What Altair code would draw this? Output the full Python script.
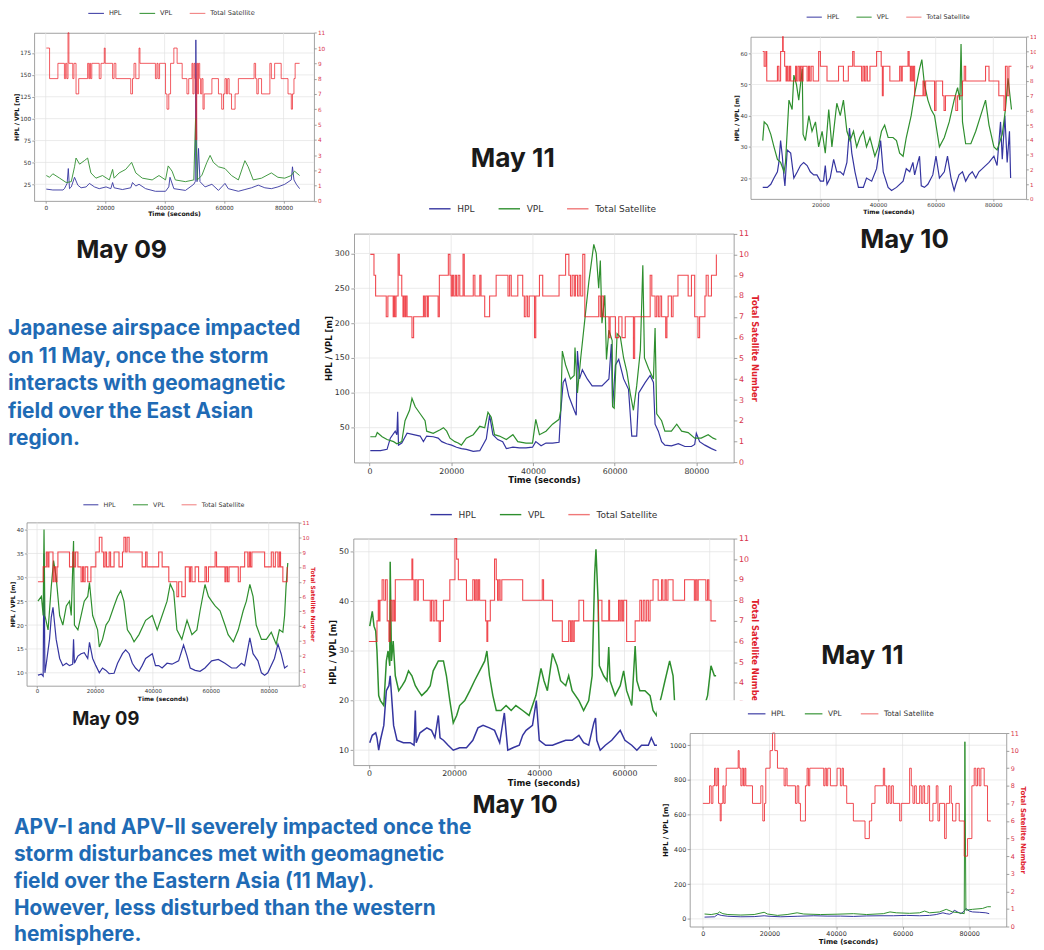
import altair as alt
import pandas as pd

# ---------------- values (t in seconds) ----------------
C1_HPL = [(200,19.5),(2400,18.5),(5800,18.5),(6300,20),(7200,26),(7600,43),(8000,20),(8600,22),(9700,33),(10800,24),
          (11900,21),(13600,22),(14700,26),(16400,22),(18000,20),(20300,22),(21900,20),(22500,27),(23000,21),(25800,19),
          (28600,21),(29200,27),(30300,23),(31400,25),(33600,20),(36900,17),(40300,17),(41400,22),(41800,33),(43100,20),
          (47000,18),(49800,25),(50300,28),(50500,190),(50900,28),(51400,66),(51900,28),(53600,22),(55900,25),(58100,18),
          (60300,26),(61400,20),(64800,17),(67000,19),(69200,21),(71500,24),(73700,21),(75900,20),(78100,22),(80400,25),
          (82600,30),(83000,45),(83500,30),(84300,25),(85400,20)]
C1_VPL = [(200,35),(1300,33),(2400,37),(4700,32),(6900,27),(8600,28),(9700,45),(10200,55),(11400,48),(13000,52),
          (14100,55),(15200,38),(16900,32),(19100,35),(21400,30),(22500,42),(23000,32),(24700,38),(26900,42),(28900,50),
          (30300,38),(32500,32),(35800,30),(38100,35),(40300,30),(41200,46),(42500,40),(43600,30),(47000,28),(49800,30),
          (50400,100),(51000,30),(52500,35),(54200,50),(55300,58),(56400,50),(58100,45),(60300,43),(62500,35),(64800,30),
          (67000,52),(68100,45),(69800,30),(72600,32),(75900,38),(78100,33),(80400,32),(82600,35),(83700,40),(85400,35)]
C1_SAT = [(200,10),(1300,8),(4100,9),(6300,8),(6700,9),(7100,8),(7500,11),(7800,9),(9100,8),(9500,9),(10200,7),(11100,8),
          (14100,9),(14500,8),(14800,9),(15100,8),(15500,9),(18000,8),(18600,9),(19700,10),(20000,9),(22500,8),(23000,9),
          (23600,8),(28600,7),(29200,8),(29700,9),(30300,8),(31400,10),(31700,9),(36900,8),(37400,9),(37800,8),(38300,9),
          (40300,7),(40800,6),(41400,7),(42000,9),(43100,10),(44200,9),(45900,8),(47500,7),(48100,8),(49200,9),(49500,7),
          (49900,9),(50200,8),(50500,4),(50800,9),(51100,7),(51400,9),(51800,8),(52100,7),(52500,8),(52900,6),(53300,7),
          (55900,8),(58100,7),(59200,6),(59800,7),(60300,8),(60800,7),(61200,8),(61700,7),(62500,6),(63700,7),(64800,8),
          (70100,9),(70600,8),(71000,7),(71500,8),(72600,7),(75400,9),(75900,8),(77000,9),(79200,8),(81500,7),(82600,6),
          (83000,7),(83500,8),(83900,9),(85400,9)]

C2_HPL = [(0,17),(1600,17),(2800,18),(3900,20),(5100,22),(5600,25),(6200,32),(6800,27),(7400,20),(7700,17.5),(8500,29),
          (9700,28),(10800,20),(12000,22),(13100,24),(14200,25),(15400,24),(16500,22),(17700,21),(18800,21),(20000,19),
          (21100,19),(21700,24),(22300,18),(23400,20),(24600,26),(25700,22),(26900,22),(28000,21),(29200,25),(30100,36),
          (30900,28),(32000,22),(33200,17),(34900,17),(36000,20),(37800,19),(39500,23),(40900,32),(41800,22),(43500,17),
          (44700,16),(46400,17),(48700,19),(49800,23),(51000,22),(52100,25),(52700,21),(53800,25),(54400,27),(55000,17.5),
          (56100,17),(57300,18),(59000,21),(60100,27),(61300,20),(63000,22),(64100,27),(65300,20),(66400,16),(67000,18),
          (68100,21),(69300,22),(70400,19),(71600,21),(72700,22),(73900,20),(75000,22),(76200,23),(77300,24),(78500,25),
          (80200,27),(81300,24),(82500,38),(83100,26),(84000,40),(84800,25),(85600,35),(86000,20)]
C2_VPL = [(0,32),(500,38),(1600,37),(2800,34),(3900,30),(5100,26),(6200,25),(7400,22),(7900,25),(9100,45),(10200,42),
          (10800,53),(11700,50),(12500,45),(13700,55),(14000,34),(14800,32),(16000,40),(17100,35),(18300,38),(19400,30),
          (20600,35),(21700,28),(22900,42),(24000,30),(25700,44),(26900,40),(28000,45),(29200,35),(30300,32),(31500,35),
          (32600,30),(33700,33),(34900,35),(36000,30),(37200,33),(38900,27),(40100,30),(41200,35),(42300,37),(43500,33),
          (45200,33),(46400,32),(47500,28),(48700,27),(49800,33),(51500,40),(52700,47),(54400,55),(55200,58),(56100,50),
          (57300,45),(58400,42),(59600,40),(61300,30),(63000,33),(64700,38),(66400,45),(67600,49),(68400,45),(68800,63),
          (69300,38),(70400,31),(72200,31),(73900,35),(75600,40),(77300,45),(78500,37),(80200,30),(81300,29),(83100,34),
          (84200,42),(85100,52),(86300,42)]
C2_SAT = [(0,10),(500,9),(1100,10),(1400,8),(5100,9),(5600,8),(6200,10),(6900,11),(7100,10),(7600,9),(8100,8),(8400,9),
          (8800,8),(9300,9),(9700,8),(11400,9),(11700,8),(12200,9),(12700,8),(13100,9),(13600,8),(14000,9),(15400,8),
          (15900,9),(16300,8),(16800,9),(17500,8),(19400,10),(20000,9),(22300,8),(26300,9),(28000,8),(29700,9),(31200,10),
          (31700,9),(34300,8),(34800,9),(35300,8),(35800,9),(36300,8),(37200,9),(39500,10),(41100,9),(41500,7),(41800,9),
          (44100,8),(47500,9),(48000,8),(48400,9),(50400,10),(50800,9),(51200,8),(51500,9),(51900,8),(52300,9),(52700,7),
          (55600,8),(56000,7),(56500,8),(59600,6),(60100,8),(62400,7),(62900,6),(63400,7),(67000,6),(67600,7),(69300,8),
          (69900,9),(70400,8),(77300,9),(78500,8),(81900,7),(83700,6),(84200,9),(84800,7),(85400,9),(86300,9)]

C3_HPL = [(200,17),(2700,17),(4300,19),(5100,35),(6300,45),(6700,40),(6900,73),(7100,25),(7900,28),(9200,42),(10800,40),
          (12400,38),(13200,30),(14000,38),(15600,37),(16800,35),(17700,30),(18900,27),(20100,25),(21300,22),(22500,20),
          (23700,19),(25400,16),(27000,17),(28600,34),(29400,68),(30200,40),(31400,33),(32600,30),(33500,20),(35100,22),
          (36700,21),(38300,21),(39900,22),(40700,30),(42000,24),(43200,28),(44800,28),(46400,29),(46800,72),(47400,115),
          (47900,120),(48800,95),(50100,75),(50600,68),(50900,160),(51400,120),(52100,133),(53300,120),(54500,110),
          (56900,110),(58600,120),(59200,170),(59500,80),(60200,140),(61000,148),(62200,120),(63400,105),(64200,38),
          (65400,38),(65900,100),(67500,115),(68700,125),(69500,115),(69900,55),(70700,45),(71500,30),(72300,25),
          (73900,24),(75600,27),(77200,23),(78800,23),(79600,26),(80000,42),(80800,30),(82100,25),(83700,20),(84900,17)]
C3_VPL = [(200,37),(1500,37),(1900,43),(3100,37),(4300,33),(5900,30),(6700,27),(7900,30),(8700,60),(9800,75),(10400,92),
          (11200,80),(12400,70),(13600,60),(14000,45),(15600,42),(17300,47),(18100,50),(18900,45),(19700,35),(20900,30),
          (21700,28),(22500,25),(23700,35),(25400,40),(27000,52),(28200,50),(29000,72),(29800,65),(30600,40),(31800,38),
          (33500,33),(35100,40),(36300,30),(38300,28),(39900,28),(40700,62),(41600,40),(43200,45),(44800,55),(46400,62),
          (46800,75),(47200,160),(48000,140),(49200,120),(50100,125),(50300,165),(50900,100),(51700,150),(53700,260),
          (54900,313),(55500,300),(56100,250),(56500,290),(56900,200),(57600,240),(58000,148),(58600,190),(59400,175),
          (59500,80),(59900,78),(60600,185),(61400,180),(62200,150),(63000,130),(63800,100),(64600,75),(65400,110),
          (66300,161),(66900,283),(67300,150),(68300,135),(69500,120),(69900,193),(70300,70),(71500,60),(72300,45),
          (73900,45),(75200,55),(76400,45),(78000,43),(79600,35),(81200,35),(82900,40),(84100,35),(84900,33)]
C3_SAT = [(200,10),(1100,9),(1500,8),(4100,7),(4500,8),(5800,7),(6000,8),(6200,7),(6500,8),(7000,10),(7300,9),(7900,8),
          (8200,7),(8400,8),(8700,7),(8900,8),(9200,7),(10400,6),(10800,7),(13200,8),(13500,7),(13800,8),(14200,7),
          (14400,8),(16800,7),(17100,9),(19300,10),(19700,9),(20000,8),(20300,9),(20600,8),(21000,9),(21300,8),(21700,9),
          (22100,8),(22900,10),(23200,8),(25400,9),(25800,8),(27000,9),(27300,8),(28200,7),(29400,8),(31000,9),(33900,8),
          (34300,9),(34700,8),(36300,9),(37500,8),(37900,7),(38300,8),(38700,7),(39100,8),(40400,6),(40700,8),(41600,9),
          (42400,8),(46400,9),(48000,10),(48800,9),(49200,8),(49600,9),(50100,8),(50400,9),(50900,8),(51300,9),(51700,8),
          (52200,10),(52700,7),(56100,8),(56500,7),(56900,8),(57300,7),(58600,6),(58900,7),(60200,6),(61000,7),(61800,6),
          (62600,7),(64600,5),(64900,7),(68700,9),(69100,8),(69900,7),(70300,8),(70700,7),(71100,8),(71500,7),(72500,6),
          (72800,7),(73100,8),(73900,7),(74300,8),(75500,9),(78000,8),(78800,9),(79600,7),(80400,6),(80800,7),(82100,8),
          (82400,9),(82900,8),(83700,9),(84900,10)]

C4_HPL = [(300,9.5),(1500,9.7),(2100,9.3),(2400,35),(2700,10),(3200,12),(4300,17),(4900,21.6),(5500,23.7),(6100,20),
          (6600,17),(7800,13),(8900,11.5),(10100,12),(11200,11.5),(12300,11.8),(12600,17),(12900,12),(14100,13.5),
          (15200,14),(16300,14.2),(17500,13),(18100,16.4),(19200,13),(20300,11.5),(21500,10),(22600,11),(23800,10.5),
          (24900,9.8),(26600,9.9),(27800,12),(29500,14),(30600,14.8),(31800,14),(32900,12),(34000,11),(35200,10.3),
          (36300,11.5),(37500,13),(39800,14),(40900,11.5),(42000,11.5),(43200,11),(44900,12),(46600,11.8),(48900,12.5),
          (50600,15.8),(51800,13.5),(52900,11),(54600,10.5),(56300,10.3),(58000,11),(60300,12.5),(62600,12.8),(64900,12),
          (67200,11),(68900,11),(70600,12),(71700,11.5),(73500,17.3),(74600,14),(76300,12.5),(77500,10),(78600,9.5),
          (79700,10),(82000,13),(83200,16),(84300,14),(85500,11),(86600,11.5)]
C4_VPL = [(300,25),(1500,26),(2100,22),(2400,40),(2700,22),(3800,19),(4900,28),(5700,33.5),(6600,30),(7800,22),(8900,20),
          (10100,24),(11200,25),(11800,22),(12600,37.6),(12900,20),(14100,19),(15200,22),(16300,25),(17500,26),(18100,28.9),
          (19200,22),(20900,19),(21500,15.4),(22600,17),(23800,20),(24900,21),(26600,24),(27800,26),(28900,27.2),(30000,25),
          (31200,19),(32300,18),(33500,16.5),(35200,18),(37500,21),(39800,22),(41500,19),(43200,22),(44900,25),(46000,28.6),
          (47200,27),(48300,19),(50000,17),(51800,21),(53500,18),(55200,19),(56300,23),(58000,28.5),(59200,26),(60300,25),
          (61500,24),(63200,23),(64900,20),(66000,18),(67800,16.5),(69500,19),(71200,23),(72300,25),(73500,28.5),(74600,26),
          (75700,20),(77500,17),(79200,17),(80900,18.5),(82600,16),(83700,19),(84900,18.5),(85500,22),(86000,28),(86600,33)]
C4_SAT = [(300,7),(2100,8),(3200,9),(3700,8),(4100,9),(5500,7),(5900,8),(6400,7),(6900,8),(7200,9),(11200,8),(12300,9),
          (12800,8),(13300,9),(14100,8),(15200,7),(15700,8),(16100,7),(16600,8),(17500,7),(18600,8),(20300,9),(21500,10),
          (22400,9),(23000,8),(23500,9),(24000,8),(24900,9),(25400,8),(26600,9),(28300,8),(29500,9),(30000,10),(30600,9),
          (31100,10),(31800,9),(36300,8),(37500,9),(38000,8),(42000,9),(43200,8),(45500,7),(48300,6),(48900,7),(50000,6),
          (51200,8),(52600,7),(53000,8),(53500,7),(54600,8),(55800,7),(58000,8),(58500,7),(59200,8),(61500,9),(62000,8),
          (64900,7),(65300,8),(65800,7),(66300,8),(69500,7),(70200,8),(71700,9),(72800,8),(73300,9),(73700,8),(74200,9),
          (78600,8),(80900,9),(81600,8),(82300,9),(83200,8),(83700,9),(84100,8),(84900,7),(86400,8)]

C5_HPL = [(200,11.5),(800,13),(1600,13.5),(1900,12.5),(2300,10),(2700,12),(3500,15),(4100,22),(4700,23),(5000,25),
          (5400,20),(5800,15),(6600,12),(8100,11.5),(9700,11.5),(10600,11),(10900,18),(11100,11.5),(12000,13.5),(13600,14.5),
          (14700,14),(15500,12.5),(16300,17),(16700,12.5),(17500,12),(18600,11),(19800,10),(21300,10.5),(22900,10.5),
          (24400,12),(25600,14.5),(26800,15),(28300,14.5),(29500,14),(30700,11.5),(31800,17.5),(32600,10),(33800,10.5),
          (35300,11),(36100,13),(36900,14),(38400,15),(39300,20),(40000,12),(41500,11),(43100,11),(44600,11.5),(46200,12),
          (47700,12),(49300,13),(50400,11.5),(51600,11),(52800,15.5),(53200,16.5),(53500,12),(54300,10),(55500,11),
          (57000,12),(59000,14),(60100,12),(61700,11),(62900,10),(64000,11),(65600,11),(66300,12.5),(67100,11),(71800,11),
          (75700,12),(81500,11)]
C5_VPL = [(200,35),(800,38),(1200,35),(1600,34),(1900,30),(2300,21),(2700,20),(3500,19),(4100,28),(4500,30),(4900,27),
          (5000,48),(5300,28),(5700,32),(6200,25),(7000,22),(7800,23),(8500,24),(9300,26),(10100,25),(10900,23),(11600,22),
          (12400,21),(13600,22),(14400,23),(15100,26),(16300,28),(17500,28),(18200,25),(19000,20),(19800,15.5),(20600,17),
          (21300,19),(22500,20),(23700,22),(24800,24),(26000,26),(27200,28),(27700,30),(28300,25),(29100,21),(29900,18),
          (31000,18),(32200,19),(33400,18),(34500,19),(36100,18),(37600,17),(39200,21),(40400,26.5),(41100,24),(41900,22),
          (43100,29.5),(44200,27),(45000,24),(46200,23),(46900,25),(47700,22),(49300,20),(50400,18),(51600,20),(52400,25),
          (53000,45.5),(53300,50.5),(53800,40),(54100,27),(55100,25),(55900,24),(56300,30.8),(56600,24),(57800,21),
          (59000,23),(59800,26),(60500,22),(61700,19),(62500,31),(62900,24),(63600,22),(64800,22),(66000,21),(66700,18),
          (67500,17),(68700,21),(69500,24),(70600,28),(71400,25),(71800,19),(74100,17),(75700,17.5),(77200,18),(78800,19),
          (79500,21),(80300,27),(81100,25),(81500,25)]
C5_SAT = [(0,6),(1900,7),(2200,8),(2400,7),(2600,8),(3100,9),(3500,8),(3900,9),(4300,7),(4700,6),(5000,8),(5400,7),
          (5700,8),(6000,7),(6200,9),(10100,10),(10300,9),(10600,8),(10900,9),(11300,8),(11600,9),(12800,8),(14400,7),
          (14700,8),(15100,7),(15500,8),(15900,7),(16500,6),(16800,7),(17500,8),(19000,9),(20200,11),(20600,10),(21000,9),
          (22900,8),(24400,9),(24800,8),(25100,9),(25400,8),(25700,9),(26000,8),(27400,7),(27700,6),(27900,7),(28500,8),
          (29500,10),(29900,9),(30200,8),(30500,9),(30800,8),(31200,9),(36100,8),(40700,9),(41000,8),(43100,7),(45400,6),
          (46900,7),(47300,6),(47600,7),(47900,6),(48200,7),(49300,8),(50400,7),(53900,8),(54700,7),(56300,8),(56500,7),
          (58600,8),(58900,7),(59200,8),(59500,7),(59800,8),(60500,6),(62500,7),(63600,8),(64000,7),(64400,8),(64800,7),
          (65200,8),(65600,7),(66000,8),(66700,9),(67900,8),(68700,9),(69000,8),(69500,9),(69800,8),(70200,9),(71400,8),
          (74100,9),(76400,8),(76700,9),(77000,8),(77300,9),(79100,8),(79500,9),(79800,8),(80300,7),(81500,7)]

C6_HPL = [(500,10),(3500,12),(4500,26),(5500,20),(7500,15),(11400,12),(15400,13),(18400,18),(19900,15),(23400,12),
          (28300,15),(33300,18),(37300,16),(41300,16),(45200,14),(49200,17),(53200,18),(57200,18),(61100,20),(65100,18),
          (68100,20),(70100,25),(72100,35),(73100,30),(74100,27),(75000,35),(75500,50),(76500,40),(77500,30),(78500,45),
          (79000,60),(80000,45),(81000,40),(83000,38),(85000,35),(86000,30)]
C6_VPL = [(500,28),(2500,25),(4500,32),(5000,40),(6000,30),(7500,25),(11400,22),(15400,25),(18400,38),(19400,28),
          (22400,20),(25300,25),(28300,35),(30300,28),(35300,25),(40300,27),(45200,30),(49200,25),(54200,30),(56200,40),
          (58100,35),(62100,32),(65100,35),(66600,45),(68100,35),(71100,40),(73100,55),(75000,40),(77000,35),(78500,30),
          (78700,1020),(79000,50),(81000,55),(84000,60),(85500,70),(86500,70)]
C6_SAT = [(0,7),(2000,8),(2500,7),(3000,8),(3500,9),(3900,8),(4300,9),(4700,7),(5200,6),(5500,7),(6000,8),(6300,7),
          (6700,8),(7000,9),(10600,10),(10900,9),(11400,8),(11800,9),(12200,8),(12600,9),(12900,8),(14900,7),(17400,8),
          (18000,6),(18500,7),(18900,9),(20200,10),(20900,11),(21600,10),(22400,9),(24400,8),(24900,9),(25300,8),(27800,7),
          (28300,8),(28800,7),(29300,6),(30800,8),(31300,9),(31700,8),(32100,9),(36300,8),(36700,9),(37100,8),(37500,9),
          (38300,8),(40300,9),(41300,8),(41800,9),(42200,8),(43200,7),(45200,6),(48700,5),(50000,6),(50700,7),(51700,8),
          (54200,9),(54600,8),(55200,7),(55700,8),(56200,7),(56700,8),(57200,7),(59100,6),(59600,7),(62100,9),(62600,8),
          (63100,7),(63600,8),(64100,7),(65100,8),(65600,7),(66100,8),(66600,7),(67600,8),(68100,6),(69100,7),(70100,8),
          (70600,6),(71100,7),(72600,5),(73100,7),(74100,8),(74600,7),(75000,6),(76000,7),(77000,6),(78500,4),(79500,5),
          (80800,8),(81500,9),(82000,8),(82500,9),(83000,8),(83500,9),(84500,8),(85500,6),(86500,6)]

SERIES = ["HPL", "VPL", "Total Satellite"]
X_TITLE = "Time (seconds)"
YL_TITLE = "HPL / VPL [m]"
YR_TITLE = "Total Satellite Number"
X_TICKS = [0, 20000, 40000, 60000, 80000]
SAT_TICKS = list(range(12))

MAY_LABELS = ["May 11", "May 09", "May 10", "May 09", "May 11", "May 10"]
PARA_1 = ["Japanese airspace impacted", "on 11 May, once the storm", "interacts with geomagnetic",
          "field over the East Asian", "region."]
PARA_2 = ["APV-I and APV-II severely impacted once the", "storm disturbances met with geomagnetic",
          "field over the Eastern Asia (11 May).", "However, less disturbed than the western", "hemisphere."]

# ---------------- layout / style ----------------
W, H, M = 1036, 942, 8
FONT = "DejaVu Sans"
HPL_C, VPL_C, SAT_C, SAT_LEG = "#3535a0", "#2e8f2e", "#ec1c24", "#f07878"
GRID_C, FRAME_C = "#e2e2e2", "#8a8a8a"
LBL_C, TTL_C = "#333333", "#111111"
RED_LBL, RED_TTL = "#d8344c", "#e0202c"
TXT_BLUE = "#1f6bb5"

PANELS = [
    dict(hpl=C1_HPL, vpl=C1_VPL, sat=C1_SAT, xcal=((0, 46.0), (80000, 285.7)), xf=(34.3, 316.3),
         ycal=((25, 182.0), (175, 49.7)), yf=(198.7, 29.3), xt=X_TICKS, yt=[25, 50, 75, 100, 125, 150, 175],
         k=0.73, leg=(88.3, 8.7), rt=False, z=0, lw=0.9),
    dict(hpl=C2_HPL, vpl=C2_VPL, sat=C2_SAT, xcal=((20000, 826.7), (80000, 1001.0)), xf=(756.3, 1034.0),
         ycal=((20, 175.7), (60, 50.0)), yf=(196.7, 33.3), xt=[20000, 40000, 60000, 80000], yt=[20, 30, 40, 50, 60],
         k=0.71, leg=(812.0, 12.7), rt=False, z=0, lw=1.2),
    dict(hpl=C3_HPL, vpl=C3_VPL, sat=C3_SAT, xcal=((0, 372.3), (80000, 701.7)), xf=(356.7, 739.3),
         ycal=((50, 427.3), (300, 251.7)), yf=(462.3, 231.7), xt=X_TICKS, yt=[50, 100, 150, 200, 250, 300],
         k=1.0, leg=(431.7, 205.8), rt=True, z=0, lw=1.2),
    dict(hpl=C4_HPL, vpl=C4_VPL, sat=C4_SAT, xcal=((0, 37.3), (80000, 270.7)), xf=(26.7, 301.0),
         ycal=((10, 674.3), (40, 530.0)), yf=(687.3, 522.7), xt=X_TICKS, yt=[10, 15, 20, 25, 30, 35, 40],
         k=0.70, leg=(83.0, 504.0), rt=True, z=0, lw=1.2),
    dict(hpl=C5_HPL, vpl=C5_VPL, sat=C5_SAT, xcal=((0, 371.7), (60000, 629.3)), xf=(356.0, 739.3),
         ycal=((10, 752.3), (50, 552.3)), yf=(767.3, 539.0), xt=X_TICKS, yt=[10, 20, 30, 40, 50],
         k=1.0, leg=(433.0, 514.0), rt=True, z=0, lw=1.5),
    dict(hpl=C6_HPL, vpl=C6_VPL, sat=C6_SAT, xcal=((0, 708.3), (80000, 976.7)), xf=(695.0, 1014.0),
         ycal=((0, 922.3), (1000, 747.3)), yf=(930.0, 735.0), xt=X_TICKS, yt=[0, 200, 400, 600, 800, 1000],
         k=0.82, leg=(753.0, 715.0), rt=True, z=1, lw=1.0),
]

# caption anchor (center x, baseline y, font size) for the "May .." captions
MAY_POS = [(516.7, 164.3, 26.5), (122.5, 256.7, 25), (911.5, 246.5, 26),
           (106.5, 727.0, 18.5), (869.0, 665.5, 26), (519.0, 815.5, 25)]


def inv(cal, p):
    (v1, p1), (v2, p2) = cal
    return v1 + (p - p1) * (v2 - v1) / (p2 - p1)


def panel_layers(P):
    k, z, lw = P["k"], P["z"], P["lw"]
    xr = [P["xf"][0] - M, P["xf"][1] - M]
    yr = [P["yf"][0] - M, P["yf"][1] - M]
    xd = [inv(P["xcal"], P["xf"][0]), inv(P["xcal"], P["xf"][1])]
    yd = [inv(P["ycal"], P["yf"][0]), inv(P["ycal"], P["yf"][1])]
    xs = alt.Scale(domain=xd, range=xr, nice=False, zero=False)
    ys = alt.Scale(domain=yd, range=yr, nice=False, zero=False)
    rs = alt.Scale(domain=[0, 11], range=yr, nice=False, zero=False)

    base = dict(labelFont=FONT, titleFont=FONT, labelFontSize=7.9 * k, titleFontSize=8.5 * k,
                tickSize=3.2 * k, labelPadding=1.6 * k, titlePadding=1.0 * k, domainColor=FRAME_C,
                tickColor=FRAME_C, domainWidth=0.8, tickWidth=0.8, grid=False, titleFontWeight="bold",
                labelOverlap=False, labelFlush=False, format="d", zindex=z)
    ax_b = alt.Axis(orient="bottom", offset=yr[0] - H, values=P["xt"], title=X_TITLE,
                    labelColor=LBL_C, titleColor=TTL_C, **base)
    ax_l = alt.Axis(orient="left", offset=-xr[0], values=P["yt"], title=YL_TITLE,
                    labelColor=LBL_C, titleColor=TTL_C, **base)
    ax_r = alt.Axis(orient="right", offset=xr[1] - W, values=SAT_TICKS,
                    title=YR_TITLE if P["rt"] else None, labelColor=RED_LBL, titleColor=RED_TTL, **base)
    ax_t = alt.Axis(orient="top", offset=-yr[1], labels=False, ticks=False, title=None, grid=False,
                    domainColor=FRAME_C, domainWidth=0.8, zindex=z)

    xg = pd.DataFrame({"t": P["xt"], "a": yd[0], "b": yd[1]})
    yg = pd.DataFrame({"v": P["yt"], "a": xd[0], "b": xd[1]})
    grid_x = alt.Chart(xg).mark_rule(color=GRID_C, strokeWidth=0.7).encode(
        x=alt.X("t:Q", scale=xs, axis=ax_t), y=alt.Y("a:Q", scale=ys, axis=None), y2="b:Q")
    grid_y = alt.Chart(yg).mark_rule(color=GRID_C, strokeWidth=0.7).encode(
        y=alt.Y("v:Q", scale=ys, axis=None), x=alt.X("a:Q", scale=xs, axis=None), x2="b:Q")

    df = pd.concat([pd.DataFrame(P["hpl"], columns=["t", "v"]).assign(s="HPL"),
                    pd.DataFrame(P["vpl"], columns=["t", "v"]).assign(s="VPL")], ignore_index=True)
    sym = 21.6 * k
    legend = alt.Legend(orient="none", legendX=P["leg"][0] - M, legendY=P["leg"][1] - M - sym / 2,
                        direction="horizontal", title=None, symbolType="stroke", symbolSize=sym * sym,
                        symbolStrokeWidth=1.4 * k, labelFont=FONT, labelFontSize=9.1 * k, labelColor=LBL_C,
                        labelOffset=6.0 * k, columnPadding=20.0 * k, padding=0, rowPadding=0)
    lines = alt.Chart(df).mark_line(strokeWidth=lw).encode(
        x=alt.X("t:Q", scale=xs, axis=ax_b),
        y=alt.Y("v:Q", scale=ys, axis=ax_l),
        color=alt.Color("s:N", scale=alt.Scale(domain=SERIES, range=[HPL_C, VPL_C, SAT_LEG]), legend=legend))

    sdf = pd.DataFrame(P["sat"], columns=["t", "n"])
    sat = alt.Chart(sdf).mark_line(interpolate="step-after", color=SAT_C, strokeWidth=min(lw, 1.1),
                                   opacity=0.8).encode(
        x=alt.X("t:Q", scale=xs, axis=None), y=alt.Y("n:Q", scale=rs, axis=ax_r))
    return [grid_x, grid_y, lines, sat]


one = pd.DataFrame({"a": [0]})
layers = []
for P in PANELS[:5]:
    layers += panel_layers(P)

for lab, (cx, by, fs) in zip(MAY_LABELS, MAY_POS):
    layers.append(alt.Chart(one).mark_text(text=lab, font="Inter", fontWeight="bold", fontSize=fs,
                                           color="#1a1a1a", align="center", baseline="alphabetic")
                  .encode(x=alt.value(cx - M), y=alt.value(by - M)))

layers.append(alt.Chart(one).mark_text(text=PARA_1, font="Inter", fontWeight="bold", fontSize=21,
                                       color=TXT_BLUE, align="left", baseline="alphabetic", lineHeight=27.8)
              .encode(x=alt.value(0), y=alt.value(334.0 - M)))
layers.append(alt.Chart(one).mark_text(text=PARA_2, font="Inter", fontWeight="bold", fontSize=21,
                                       color=TXT_BLUE, align="left", baseline="alphabetic", lineHeight=27.0)
              .encode(x=alt.value(14.0 - M), y=alt.value(837.0 - M)))

# white backing of the inset picture (bottom-right) that hides part of the May 10 panel
layers.append(alt.Chart(one).mark_rect(color="white").encode(
    x=alt.value(662 - M), x2=alt.value(W), y=alt.value(702 - M), y2=alt.value(H)))
layers += panel_layers(PANELS[5])

chart = (alt.layer(*layers)
         .resolve_scale(x="independent", y="independent", color="independent")
         .resolve_axis(x="independent", y="independent")
         .resolve_legend(color="independent")
         .properties(width=W, height=H, padding=0, autosize=alt.AutoSizeParams(type="none"),
                     background="white")
         .configure_view(strokeWidth=0))

chart.save("out.html", embed_options={"renderer": "svg", "actions": False})
